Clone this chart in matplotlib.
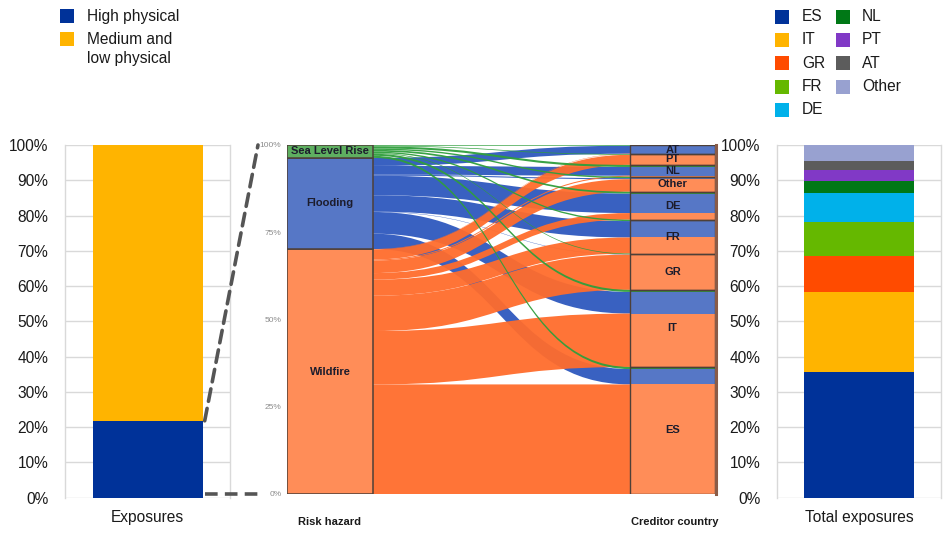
import matplotlib
matplotlib.use('Agg')
import matplotlib.pyplot as plt
from matplotlib.patches import Rectangle, PathPatch, ConnectionPatch
from matplotlib.path import Path
from matplotlib.lines import Line2D
import numpy as np

plt.rcParams['font.family'] = ['Liberation Sans', 'DejaVu Sans']

W, H, DPI = 943, 535, 100

# ---------------- data ----------------
# Left panel: exposures by physical risk level (%)
exposure_cats = ['High physical', 'Medium and\nlow physical']
exposure_vals = [21.8, 78.2]
exposure_colors = ['#003299', '#FFB400']

# Right panel: total exposures by creditor country (%)
total_countries = ['ES', 'IT', 'GR', 'FR', 'DE', 'NL', 'PT', 'AT', 'Other']
total_shares = [35.6, 22.7, 10.3, 9.7, 8.1, 3.4, 3.1, 2.6, 4.5]
total_colors = ['#003299', '#FFB400', '#FF4B00', '#65B800', '#00B1EA',
                '#007816', '#8139C6', '#5C5C5C', '#98A1D0']
legend_order = ['ES', 'IT', 'GR', 'FR', 'DE', 'NL', 'PT', 'AT', 'Other']

# Middle panel: sankey, risk hazard -> creditor country (% of high physical exposures)
hazards = ['Wildfire', 'Flooding', 'Sea Level Rise']
creditors = ['ES', 'IT', 'GR', 'FR', 'DE', 'Other', 'NL', 'PT', 'AT']
wildfire = [31.4, 15.3, 10.1, 4.6, 1.9, 3.6, 0.3, 2.9, 0.1]
flooding = [4.4, 6.2, 0.1, 4.7, 5.6, 0.3, 2.5, 0.0, 2.3]
sea_level = [0.6, 0.6, 0.2, 0.4, 0.5, 0.4, 0.6, 0.2, 0.2]
sankey_ticks = [0, 25, 50, 75, 100]

# ---------------- style ----------------
flow_colors = ['#FF6C2C', '#2E58BE', '#2F9E3C']
node_colors = ['#FF8D58', '#5677C6', '#5EAF60']
node_edge = '#4E4038'
grid_c = '#D9D9D9'
FS = 11.2


def fx(x):
    return x / W


def fy(y):
    return 1 - y / H


fig = plt.figure(figsize=(W / DPI, H / DPI), dpi=DPI)

# ---------------- left bar ----------------
ax_l = fig.add_axes([fx(65), fy(497.7), 165 / W, 352.7 / H])
bottom = 0
for v, c in zip(exposure_vals, exposure_colors):
    ax_l.bar(0, v, bottom=bottom, width=1.0, color=c, zorder=3)
    bottom += v
ax_l.set_xlim(-0.75, 0.75)
ax_l.set_ylim(0, 100)

# ---------------- right bar ----------------
ax_r = fig.add_axes([fx(777), fy(497.7), 164 / W, 352.7 / H])
bottom = 0
for v, c in zip(total_shares, total_colors):
    ax_r.bar(0, v, bottom=bottom, width=1.0, color=c, zorder=3)
    bottom += v
ax_r.set_xlim(-0.75, 0.75)
ax_r.set_ylim(0, 100)

for ax, lab in [(ax_l, 'Exposures'), (ax_r, 'Total exposures')]:
    ax.set_yticks(np.arange(0, 101, 10))
    ax.set_yticklabels([f'{v}%' for v in range(0, 101, 10)], fontsize=FS, color='#1a1a1a')
    ax.set_xticks([0])
    ax.set_xticklabels([lab], fontsize=FS, color='#1a1a1a')
    ax.tick_params(length=0, axis='y', pad=12)
    ax.tick_params(length=0, axis='x', pad=9)
    ax.grid(axis='y', color=grid_c, lw=1, zorder=0)
    ax.set_axisbelow(True)
    for s in ['top', 'bottom']:
        ax.spines[s].set_visible(False)
    for s in ['left', 'right']:
        ax.spines[s].set_color(grid_c)
        ax.spines[s].set_linewidth(1)

# ---------------- sankey ----------------
ax_m = fig.add_axes([fx(287), fy(494), 430 / W, 349 / H])
ax_m.set_xlim(0, 430)
ax_m.set_ylim(0, 100)
for s in ax_m.spines.values():
    s.set_visible(False)
ax_m.set_xticks([])
ax_m.set_yticks(sankey_ticks)
ax_m.set_yticklabels([f'{t}%' for t in sankey_ticks], fontsize=6, color='#8C8C8C')
ax_m.tick_params(axis='y', length=0, pad=4)

node_w = 86
x_left = node_w
x_right = 343
x_mid = (x_left + x_right) / 2

src = [wildfire, flooding, sea_level]
src_tot = [sum(s) for s in src]
left_base = np.concatenate([[0], np.cumsum(src_tot)[:-1]])
dst_tot = [sum(s[j] for s in src) for j in range(len(creditors))]
dst_base = np.concatenate([[0], np.cumsum(dst_tot)[:-1]])

# positions of each flow
left_pos = {}
for i, s in enumerate(src):
    y = left_base[i]
    for j, v in enumerate(s):
        left_pos[(i, j)] = (y, y + v)
        y += v
right_pos = {}
for j in range(len(creditors)):
    y = dst_base[j]
    for i, s in enumerate(src):
        right_pos[(i, j)] = (y, y + s[j])
        y += s[j]


def band(l0, l1, r0, r1):
    verts = [(x_left, l1), (x_mid, l1), (x_mid, r1), (x_right, r1),
             (x_right, r0), (x_mid, r0), (x_mid, l0), (x_left, l0), (x_left, l1)]
    codes = [Path.MOVETO, Path.CURVE4, Path.CURVE4, Path.CURVE4,
             Path.LINETO, Path.CURVE4, Path.CURVE4, Path.CURVE4, Path.CLOSEPOLY]
    return Path(verts, codes)


for i in [1, 0, 2]:
    for j in range(len(creditors)):
        if src[i][j] <= 0:
            continue
        l0, l1 = left_pos[(i, j)]
        r0, r1 = right_pos[(i, j)]
        ax_m.add_patch(PathPatch(band(l0, l1, r0, r1), facecolor=flow_colors[i],
                                 edgecolor='none', alpha=0.95, zorder=2))

# left nodes
for i, name in enumerate(hazards):
    ax_m.add_patch(Rectangle((0, left_base[i]), node_w, src_tot[i], facecolor=node_colors[i],
                             edgecolor=node_edge, lw=1.1, zorder=4))
    ax_m.text(node_w / 2, left_base[i] + src_tot[i] / 2, name, ha='center', va='center',
              fontsize=8, fontweight='bold', color='#1c1c2c', zorder=5)

# right nodes
for j, name in enumerate(creditors):
    for i in range(len(src)):
        r0, r1 = right_pos[(i, j)]
        if r1 > r0:
            ax_m.add_patch(Rectangle((x_right, r0), 428 - x_right, r1 - r0,
                                     facecolor=node_colors[i] if i < 2 else flow_colors[i],
                                     edgecolor='none', zorder=4))
    ax_m.add_patch(Rectangle((x_right, dst_base[j]), 428 - x_right, dst_tot[j], facecolor='none',
                             edgecolor=node_edge, lw=1.0, zorder=5))
    ax_m.text((x_right + 428) / 2, dst_base[j] + dst_tot[j] / 2, name, ha='center', va='center',
              fontsize=8, fontweight='bold', color='#1c1c2c', zorder=6)
ax_m.plot([428.5, 428.5], [0, 100], color='#8A5C48', lw=2.2, zorder=6, clip_on=False)

ax_m.text(node_w / 2, -8, 'Risk hazard', ha='center', va='center', fontsize=8,
          fontweight='bold', color='#1a1a1a', clip_on=False)
ax_m.text((x_right + 428) / 2 + 2, -8, 'Creditor country', ha='center', va='center', fontsize=8,
          fontweight='bold', color='#1a1a1a', clip_on=False)

# dashed connectors
con = ConnectionPatch(xyA=(0.52, exposure_vals[0]), coordsA=ax_l.transData,
                      xyB=(-29, 100), coordsB=ax_m.transData,
                      color='#555555', lw=2.6, linestyle=(0, (3.5, 2)), zorder=10)
fig.add_artist(con)
ax_m.add_line(Line2D([-82, -25], [0, 0], color='#555555', lw=2.6, linestyle=(0, (3.5, 2)),
                     clip_on=False, zorder=10))

# ---------------- legends ----------------
sq = 14
# left legend
ly = [15.5, 39]
for (lab, c, y) in zip(exposure_cats, exposure_colors, ly):
    fig.add_artist(Rectangle((fx(60), fy(y + sq / 2)), sq / W, sq / H, facecolor=c,
                             edgecolor='none', transform=fig.transFigure))
    fig.text(fx(87), fy(y - 6.5), lab, ha='left', va='top', fontsize=FS, color='#1a1a1a',
             linespacing=1.25)

# right legend
rows = [16.5, 39.5, 63, 86.5, 110]
for k, name in enumerate(legend_order):
    col = 0 if k < 5 else 1
    row = k if k < 5 else k - 5
    c = total_colors[total_countries.index(name)]
    x0 = 775 if col == 0 else 836
    xt = 802 if col == 0 else 862
    y = rows[row]
    fig.add_artist(Rectangle((fx(x0), fy(y + sq / 2)), sq / W, sq / H, facecolor=c,
                             edgecolor='none', transform=fig.transFigure))
    fig.text(fx(xt), fy(y), name, ha='left', va='center', fontsize=FS, color='#1a1a1a')

fig.savefig('out.png', dpi=DPI)
